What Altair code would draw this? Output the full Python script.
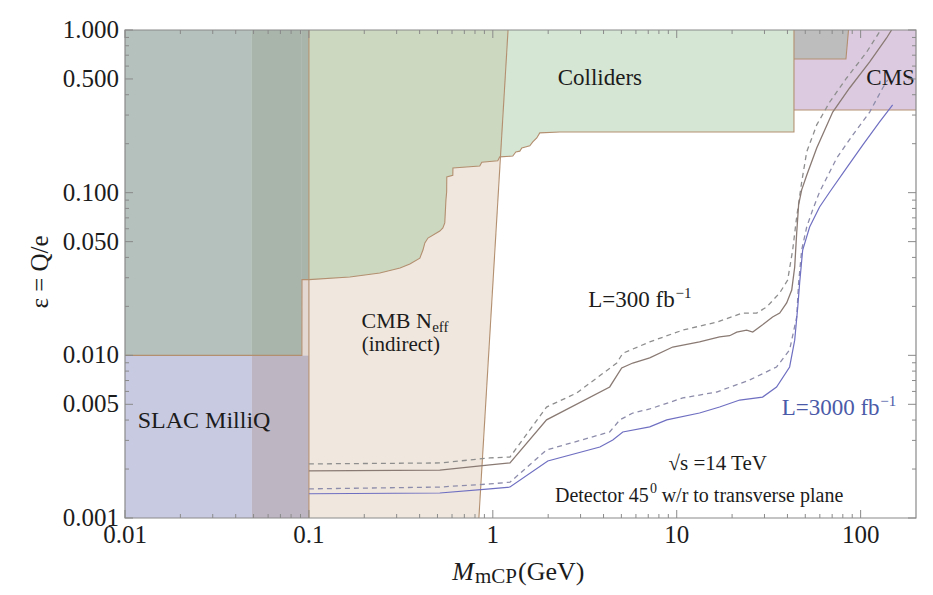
import altair as alt
import pandas as pd

# ---------------- data ----------------
# sensitivity curves, L = 300 fb^-1
l300_x = [0.1, 0.515, 0.964, 1.24, 1.96, 4.32, 5.02, 5.77, 7.13, 9.51, 13.3, 17.1, 19.4, 21.2, 24.0, 25.9,
          29.3, 33.2, 36.3, 39.6, 42.2, 43.8, 44.9, 46.0, 47.8, 50.9, 57.7, 70.5, 87.1, 112.0, 138.4, 147.3]
l300_y = [0.00195, 0.00197, 0.00212, 0.00218, 0.00401, 0.00639, 0.00836, 0.00897, 0.00964, 0.01125, 0.0121,
          0.0130, 0.0132, 0.0139, 0.0143, 0.0139, 0.0154, 0.0172, 0.0182, 0.0210, 0.0252, 0.0349, 0.0565,
          0.0843, 0.104, 0.128, 0.188, 0.313, 0.440, 0.636, 0.893, 1.0]
l300d_x = [0.1, 0.515, 0.964, 1.24, 1.96, 2.86, 4.72, 5.09, 7.13, 10.8, 16.5, 22.8, 27.2, 30.8, 36.3, 40.1,
           42.7, 44.9, 47.8, 50.9, 57.7, 67.9, 83.9, 107.9, 128.5]
l300d_y = [0.00215, 0.00218, 0.00234, 0.00237, 0.00481, 0.00587, 0.00897, 0.0103, 0.0121, 0.0143, 0.0160,
           0.0182, 0.0182, 0.0198, 0.0242, 0.0290, 0.0444, 0.0709, 0.116, 0.178, 0.261, 0.361, 0.507, 0.732, 1.0]
# sensitivity curves, L = 3000 fb^-1
l3000_x = [0.1, 0.515, 0.964, 1.24, 1.99, 3.82, 4.49, 5.09, 7.13, 8.83, 13.3, 17.1, 22.0, 29.3, 34.9, 41.1,
           43.8, 45.5, 46.6, 48.4, 52.8, 59.8, 67.9, 83.9, 102.6, 126.8, 149.3]
l3000_y = [0.00141, 0.001425, 0.00151, 0.00155, 0.00224, 0.00273, 0.00302, 0.00338, 0.00363, 0.00401, 0.00442,
           0.00481, 0.00531, 0.00554, 0.00639, 0.00848, 0.0124, 0.0198, 0.0279, 0.0444, 0.0615, 0.0816, 0.101,
           0.142, 0.196, 0.272, 0.346]
l3000d_x = [0.1, 0.515, 0.964, 1.24, 1.96, 4.32, 4.90, 5.77, 7.13, 10.8, 16.5, 24.9, 34.9, 41.1, 44.9, 46.0,
            47.8, 50.9, 54.8, 59.8, 74.1, 90.5, 112.0, 131.8, 140.2]
l3000d_y = [0.00151, 0.00155, 0.00162, 0.00166, 0.00262, 0.00338, 0.00401, 0.00442, 0.00468, 0.00547, 0.00595,
            0.00705, 0.00848, 0.0108, 0.0172, 0.0279, 0.0444, 0.0615, 0.0782, 0.101, 0.163, 0.226, 0.313, 0.440,
            0.493]

# lower boundary of the collider exclusion
coll_x = [0.01, 0.0916, 0.0917, 0.1, 0.167, 0.243, 0.313, 0.354, 0.401, 0.417, 0.427, 0.444, 0.515, 0.535,
          0.548, 0.556, 0.561, 0.562, 0.606, 0.607, 0.849, 0.871, 1.064, 1.091, 1.284, 1.334, 1.402, 1.438,
          1.589, 1.649, 1.734, 1.80, 2.31, 43.4, 43.41]
coll_y = [0.01, 0.01, 0.0292, 0.0292, 0.0303, 0.0321, 0.0344, 0.0364, 0.0396, 0.0444, 0.0491, 0.0526, 0.0581,
          0.0607, 0.0652, 0.0901, 0.101, 0.125, 0.128, 0.142, 0.146, 0.154, 0.157, 0.166, 0.168, 0.178, 0.180,
          0.188, 0.194, 0.205, 0.217, 0.233, 0.236, 0.236, 1.0]

# CMB N_eff region (x from 0.1 to a slanted edge)
cmb_y = [0.001, 1.0]
cmb_x1 = [0.1, 0.1]
cmb_x2 = [0.84, 1.21]

# grey region inside CMS block
gray_y = [0.663, 1.0]
gray_x1 = [43.4, 43.4]
gray_x2 = [83.2, 85.9]

# rectangular pieces
rect_name = ["SLAC MilliQ", "SLAC + strip", "SLAC + colliders", "strip + colliders", "strip + colliders",
             "strip", "CMS"]
rect_x1 = [0.01, 0.049, 0.01, 0.049, 0.0916, 0.0916, 43.4]
rect_x2 = [0.049, 0.1, 0.049, 0.0916, 0.1, 0.1, 200]
rect_y1 = [0.001, 0.001, 0.01, 0.01, 0.0292, 0.01, 0.3225]
rect_y2 = [0.01, 0.01, 1.0, 1.0, 1.0, 0.0292, 1.0]
rect_domain = ["SLAC MilliQ", "SLAC + strip", "SLAC + colliders", "strip + colliders", "strip", "CMS"]
rect_colors = ["#c8cae2", "#beb5c3", "#b4c1bc", "#a9b4ab", "#e4d8d2", "#dccbe0"]

# axis ticks and tick labels
x_major = [0.01, 0.1, 1, 10, 100]
x_labels = ["0.01", "0.1", "1", "10", "100"]
x_minor = [0.02, 0.03, 0.04, 0.05, 0.06, 0.07, 0.08, 0.09,
           0.2, 0.3, 0.4, 0.5, 0.6, 0.7, 0.8, 0.9,
           2, 3, 4, 5, 6, 7, 8, 9,
           20, 30, 40, 50, 60, 70, 80, 90]
y_major = [0.001, 0.005, 0.01, 0.05, 0.1, 0.5, 1]
y_labels = ["0.001", "0.005", "0.010", "0.050", "0.100", "0.500", "1.000"]
y_minor = [0.002, 0.003, 0.004, 0.006, 0.007, 0.008, 0.009,
           0.02, 0.03, 0.04, 0.06, 0.07, 0.08, 0.09,
           0.2, 0.3, 0.4, 0.6, 0.7, 0.8, 0.9]

# ---------------- styling ----------------
W, H = 791, 488
FONT = "Liberation Serif"
TXT = "#1c1c1c"
EDGE = "#b38f70"
TICK = "#8a8a8a"

xs = alt.Scale(type="log", domain=[0.01, 200], nice=False)
ys = alt.Scale(type="log", domain=[0.001, 1], nice=False)


def X(f):
    return alt.X(f, type="quantitative", scale=xs, axis=None)


def Y(f):
    return alt.Y(f, type="quantitative", scale=ys, axis=None)


layers = []

# rectangles
rect_df = pd.DataFrame({"x": rect_x1, "x2": rect_x2, "y": rect_y1, "y2": rect_y2, "region": rect_name})
layers.append(
    alt.Chart(rect_df).mark_rect().encode(
        x=X("x"), x2="x2:Q", y=Y("y"), y2="y2:Q",
        color=alt.Color("region:N", scale=alt.Scale(domain=rect_domain, range=rect_colors), legend=None),
    )
)

# CMB region
cmb_df = pd.DataFrame({"y": cmb_y, "x1": cmb_x1, "x2": cmb_x2})
layers.append(
    alt.Chart(cmb_df).mark_area(orient="horizontal", color="#f0e8de").encode(
        y=Y("y"), x=X("x1"), x2="x2:Q"
    )
)

# colliders region (translucent over CMB)
ca_df = pd.DataFrame({"x": coll_x[3:34], "y": coll_y[3:34], "top": [1.0] * len(coll_x[3:34])})
layers.append(
    alt.Chart(ca_df).mark_area(color="#96c093", opacity=0.4).encode(
        x=X("x"), y=Y("y"), y2="top:Q"
    )
)

# grey region
gray_df = pd.DataFrame({"y": gray_y, "x1": gray_x1, "x2": gray_x2})
layers.append(
    alt.Chart(gray_df).mark_area(orient="horizontal", color="#bdbdbd").encode(
        y=Y("y"), x=X("x1"), x2="x2:Q"
    )
)

# region edges
seg_x = coll_x + [0.1, 0.1] + [0.84, 1.21] + [43.4, 200] + [43.4, 83.2, 85.9]
seg_y = coll_y + [0.001, 1.0] + [0.001, 1.0] + [0.3225, 0.3225] + [0.663, 0.663, 1.0]
seg_id = (["coll"] * len(coll_x) + ["cmbL"] * 2 + ["cmbR"] * 2 + ["cms"] * 2 + ["gray"] * 3)
edge_df = pd.DataFrame({"x": seg_x, "y": seg_y, "seg": seg_id, "i": list(range(len(seg_x)))})
layers.append(
    alt.Chart(edge_df).mark_line(color=EDGE, strokeWidth=1.1, clip=True).encode(
        x=X("x"), y=Y("y"), detail="seg:N", order="i:Q"
    )
)


def curve(xv, yv, color, width, dash=None):
    df = pd.DataFrame({"x": xv, "y": yv, "i": list(range(len(xv)))})
    kw = dict(color=color, strokeWidth=width, clip=True)
    if dash:
        kw["strokeDash"] = dash
    return alt.Chart(df).mark_line(**kw).encode(x=X("x"), y=Y("y"), order="i:Q")


layers.append(curve(l300d_x, l300d_y, "#8e8e8e", 1.3, [5, 4]))
layers.append(curve(l300_x, l300_y, "#8a7a74", 1.3))
layers.append(curve(l3000d_x, l3000d_y, "#8d8cab", 1.3, [5, 4]))
layers.append(curve(l3000_x, l3000_y, "#6f6fc2", 1.2))

# annotations (anchor in data coordinates)
annotations = [
    # text, x, y, size, align, dy, color
    ("Colliders", 3.82, 0.459, 23, "center", 0, TXT),
    ("CMS", 145.5, 0.459, 23, "center", 0, TXT),
    ("CMB N", 0.466, 0.01473, 22, "right", 0, TXT),
    ("eff", 0.468, 0.01473, 15, "left", 4, TXT),
    ("(indirect)", 0.316, 0.01063, 21, "center", 0, TXT),
    ("SLAC MilliQ", 0.0269, 0.00357, 24, "center", 0, TXT),
    ("L=300 fb", 9.75, 0.0198, 23, "right", 0, TXT),
    ("\u22121", 9.85, 0.0198, 15, "left", -9, TXT),
    ("L=3000 fb", 126.8, 0.0043, 23, "right", 0, "#4b5aa8"),
    ("\u22121", 128.0, 0.0043, 15, "left", -9, "#4b5aa8"),
    ("\u221as =14 TeV", 16.7, 0.00197, 21, "center", 0, TXT),
    ("Detector 45", 7.05, 0.001254, 20, "right", 0, TXT),
    ("0", 7.15, 0.001254, 14, "left", -9, TXT),
    ("w/r to transverse plane", 8.28, 0.001254, 20, "left", 0, TXT),
]
for t, ax, ay, sz, al, dy, col in annotations:
    df = pd.DataFrame({"x": [ax], "y": [ay], "t": [t]})
    layers.append(
        alt.Chart(df).mark_text(font=FONT, fontSize=sz, align=al, baseline="alphabetic", dy=dy,
                                color=col).encode(x=X("x"), y=Y("y"), text="t:N")
    )

# ticks pointing inward on all four sides
xmaj_df = pd.DataFrame({"v": x_major, "lab": x_labels})
xmin_df = pd.DataFrame({"v": x_minor})
ymaj_df = pd.DataFrame({"v": y_major, "lab": y_labels})
ymin_df = pd.DataFrame({"v": y_minor})
for df, L in [(xmaj_df, 8), (xmin_df, 4)]:
    layers.append(alt.Chart(df).mark_rule(color=TICK, strokeWidth=1).encode(
        x=X("v"), y=alt.value(H), y2=alt.value(H - L)))
    layers.append(alt.Chart(df).mark_rule(color=TICK, strokeWidth=1).encode(
        x=X("v"), y=alt.value(0), y2=alt.value(L)))
for df, L in [(ymaj_df, 8), (ymin_df, 4)]:
    layers.append(alt.Chart(df).mark_rule(color=TICK, strokeWidth=1).encode(
        y=Y("v"), x=alt.value(0), x2=alt.value(L)))
    layers.append(alt.Chart(df).mark_rule(color=TICK, strokeWidth=1).encode(
        y=Y("v"), x=alt.value(W), x2=alt.value(W - L)))

# tick labels
layers.append(
    alt.Chart(xmaj_df).mark_text(font=FONT, fontSize=25, align="center", baseline="top", color=TXT).encode(
        x=X("v"), y=alt.value(H + 5), text="lab:N")
)
layers.append(
    alt.Chart(ymaj_df).mark_text(font=FONT, fontSize=25, align="right", baseline="middle", color=TXT).encode(
        y=Y("v"), x=alt.value(-6), text="lab:N")
)

# frame
frame_df = pd.DataFrame({"a": [0]})
layers.append(
    alt.Chart(frame_df).mark_rect(fillOpacity=0, stroke="#8a8a8a", strokeWidth=1.2).encode(
        x=alt.value(0), x2=alt.value(W), y=alt.value(0), y2=alt.value(H)
    )
)

# axis titles
title_df = pd.DataFrame({"t": ["\u03b5 = Q/e"]})
layers.append(
    alt.Chart(title_df).mark_text(font=FONT, fontSize=25, angle=270, align="center", baseline="middle",
                                  color=TXT).encode(x=alt.value(-85), y=alt.value(242), text="t:N")
)
for t, px, py, sz, al, style in [("M", 349, 550, 26, "right", "italic"),
                                 ("mCP", 350, 553, 21, "left", "normal"),
                                 ("(GeV)", 393, 550, 26, "left", "normal")]:
    layers.append(
        alt.Chart(pd.DataFrame({"t": [t]})).mark_text(font=FONT, fontSize=sz, align=al, baseline="alphabetic",
                                                      fontStyle=style, color=TXT).encode(
            x=alt.value(px), y=alt.value(py), text="t:N")
    )

chart = alt.layer(*layers).properties(
    width=W, height=H,
    padding={"left": 117, "top": 22, "right": 8, "bottom": 76},
    autosize=alt.AutoSizeParams(type="none"),
    background="white",
).configure_view(strokeWidth=0)

chart.save("out.html", embed_options={"renderer": "svg", "actions": False})
